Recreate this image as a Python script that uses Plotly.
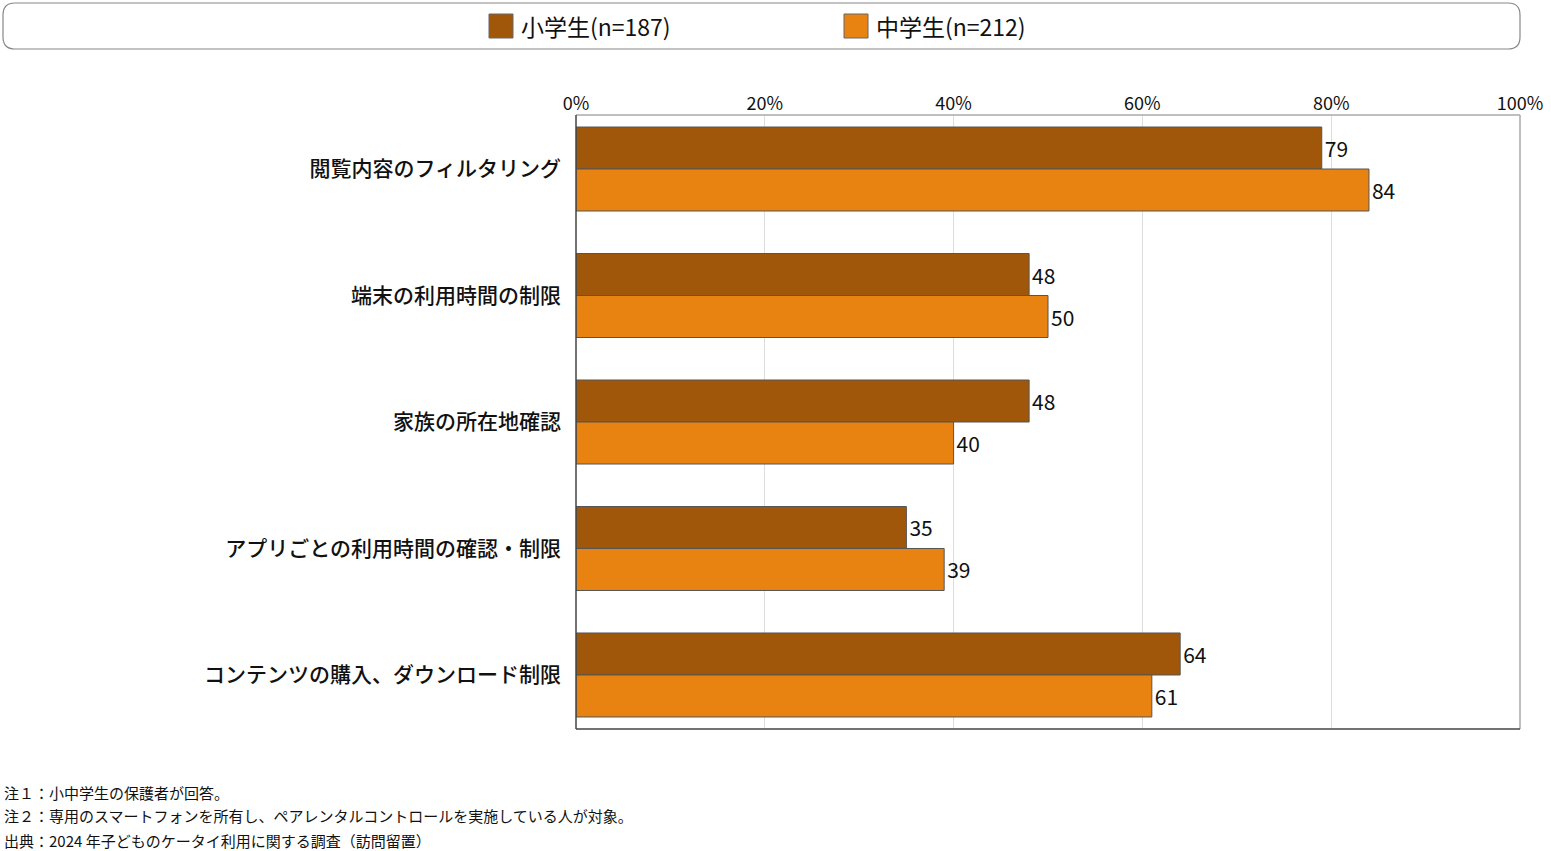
import plotly.graph_objects as go

categories = ["閲覧内容のフィルタリング", "端末の利用時間の制限", "家族の所在地確認",
              "アプリごとの利用時間の確認・制限", "コンテンツの購入、ダウンロード制限"]
series_names = ["小学生(n=187)", "中学生(n=212)"]
elementary = [79, 48, 48, 35, 64]
junior_high = [84, 50, 40, 39, 61]
tick_values = [0, 20, 40, 60, 80, 100]
tick_labels = ["0%", "20%", "40%", "60%", "80%", "100%"]
notes = ["注１：小中学生の保護者が回答。",
         "注２：専用のスマートフォンを所有し、ペアレンタルコントロールを実施している人が対象。",
         "出典：2024 年子どものケータイ利用に関する調査（訪問留置）"]

colors = ["#A0570A", "#E88210"]
FONT = "Noto Sans CJK JP"

W, H = 1551, 851
L, R, T, B = 576, 1520, 115, 729


def px(x):
    return (x - L) / (R - L)


def py(y):
    return (B - y) / (B - T)


fig = go.Figure()
for name, vals, col in zip(series_names, [elementary, junior_high], colors):
    fig.add_trace(go.Bar(
        y=categories, x=vals, name=name, orientation="h",
        marker=dict(color=col, line=dict(color="#555555", width=1)),
        text=[str(v) for v in vals], textposition="outside",
        textfont=dict(size=21, color="#111111", family=FONT),
        cliponaxis=False, showlegend=False,
    ))

fig.update_layout(
    width=W, height=H,
    margin=dict(l=L, r=W - R, t=T, b=H - B, pad=0, autoexpand=False),
    barmode="group", bargap=0.336, bargroupgap=0,
    plot_bgcolor="white", paper_bgcolor="white",
    font=dict(family=FONT, color="#111111"),
    xaxis=dict(side="top", range=[0, 100], tickvals=tick_values, ticktext=tick_labels,
               showgrid=True, gridcolor="#dddddd", gridwidth=1, zeroline=False,
               showline=False, ticks="", automargin=False,
               tickfont=dict(size=18, family=FONT)),
    yaxis=dict(range=[4.427, -0.427], showgrid=False, showline=False, ticks="",
               automargin=False,
               tickfont=dict(size=21, family=FONT, weight=500), ticklabelstandoff=14),
)

shapes = [
    dict(type="line", xref="paper", yref="paper", x0=0, x1=1, y0=1, y1=1,
         line=dict(color="#aaaaaa", width=1.5)),
    dict(type="line", xref="paper", yref="paper", x0=1, x1=1, y0=0, y1=1,
         line=dict(color="#aaaaaa", width=1.5)),
    dict(type="line", xref="paper", yref="paper", x0=0, x1=1, y0=0, y1=0,
         line=dict(color="#444444", width=1.5)),
    dict(type="line", xref="paper", yref="paper", x0=0, x1=0, y0=0, y1=1,
         line=dict(color="#444444", width=1.5)),
]

# rounded legend box
x0, x1, y0, y1, r = 3, 1520, 3, 49, 12
rx = r / (R - L)
ry = r / (B - T)
X0, X1, Y0, Y1 = px(x0), px(x1), py(y1), py(y0)
path = (f"M {X0+rx},{Y1} L {X1-rx},{Y1} Q {X1},{Y1} {X1},{Y1-ry} "
        f"L {X1},{Y0+ry} Q {X1},{Y0} {X1-rx},{Y0} L {X0+rx},{Y0} "
        f"Q {X0},{Y0} {X0},{Y0+ry} L {X0},{Y1-ry} Q {X0},{Y1} {X0+rx},{Y1} Z")
shapes.append(dict(type="path", xref="paper", yref="paper", path=path,
                   line=dict(color="#888888", width=1.2), fillcolor="rgba(0,0,0,0)"))

annotations = []
for sx, name, col in zip([489, 844], series_names, colors):
    shapes.append(dict(type="rect", xref="paper", yref="paper",
                       x0=px(sx), x1=px(sx + 24), y0=py(38), y1=py(14),
                       fillcolor=col, line=dict(color="#666666", width=1)))
    annotations.append(dict(xref="paper", yref="paper", x=px(sx + 30), y=py(26),
                            text=name, showarrow=False, xanchor="left", yanchor="middle",
                            font=dict(size=23, family=FONT, color="#111111")))

for yy, t in zip([792, 815, 840], notes):
    annotations.append(dict(xref="paper", yref="paper", x=px(2), y=py(yy), text=t,
                            showarrow=False, xanchor="left", yanchor="middle",
                            font=dict(size=15, family=FONT, color="#111111")))

fig.update_layout(shapes=shapes, annotations=annotations)
fig.write_html("out.html", config={"displayModeBar": False},
               post_script="document.body.style.margin='0';document.body.style.overflow='hidden';")
